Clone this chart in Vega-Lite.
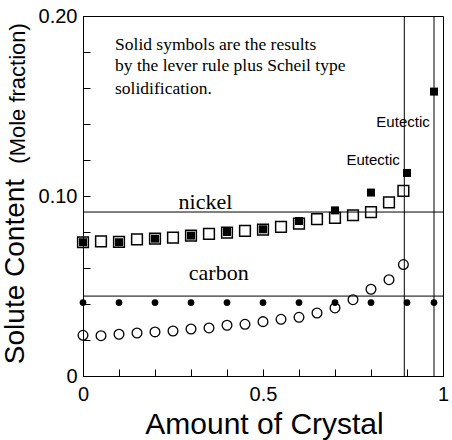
{
  "$schema": "https://vega.github.io/schema/vega-lite/v6.json",
  "width": 360,
  "height": 360,
  "autosize": {"type": "none"},
  "padding": {"left": 83, "top": 16, "right": 9, "bottom": 64},
  "background": "white",
  "config": {
    "view": {"stroke": "black", "strokeWidth": 1},
    "axis": {
      "domainColor": "black", "tickColor": "black", "labelColor": "black", "titleColor": "black",
      "grid": false, "labelFont": "Liberation Sans", "titleFont": "Liberation Sans",
      "titleFontWeight": "normal", "labelFontSize": 20, "tickSize": -7, "tickWidth": 1, "domainWidth": 1,
      "labelOverlap": false, "labelFlush": false
    }
  },
  "datasets": {
    "nickelFull": [
      {"x": 0, "y": 0.0743}, {"x": 0.05, "y": 0.0748}, {"x": 0.1, "y": 0.0745}, {"x": 0.15, "y": 0.0759},
      {"x": 0.2, "y": 0.0763}, {"x": 0.25, "y": 0.0769}, {"x": 0.3, "y": 0.078}, {"x": 0.35, "y": 0.0789},
      {"x": 0.4, "y": 0.0797}, {"x": 0.45, "y": 0.0806}, {"x": 0.5, "y": 0.0813}, {"x": 0.55, "y": 0.0828},
      {"x": 0.6, "y": 0.0847}, {"x": 0.65, "y": 0.0871}, {"x": 0.7, "y": 0.0878}, {"x": 0.75, "y": 0.0893},
      {"x": 0.8, "y": 0.0911}, {"x": 0.85, "y": 0.0965}, {"x": 0.89, "y": 0.1028}
    ],
    "nickelLever": [
      {"x": 0, "y": 0.0743}, {"x": 0.1, "y": 0.0743}, {"x": 0.2, "y": 0.0763}, {"x": 0.3, "y": 0.078},
      {"x": 0.4, "y": 0.08}, {"x": 0.5, "y": 0.0815}, {"x": 0.6, "y": 0.0861}, {"x": 0.7, "y": 0.092},
      {"x": 0.8, "y": 0.1019}, {"x": 0.9, "y": 0.1128}, {"x": 0.975, "y": 0.158}
    ],
    "carbonFull": [
      {"x": 0, "y": 0.0226}, {"x": 0.05, "y": 0.0224}, {"x": 0.1, "y": 0.0232}, {"x": 0.15, "y": 0.0239},
      {"x": 0.2, "y": 0.0245}, {"x": 0.25, "y": 0.025}, {"x": 0.3, "y": 0.0261}, {"x": 0.35, "y": 0.0267},
      {"x": 0.4, "y": 0.0282}, {"x": 0.45, "y": 0.0287}, {"x": 0.5, "y": 0.0302}, {"x": 0.55, "y": 0.0315},
      {"x": 0.6, "y": 0.0326}, {"x": 0.65, "y": 0.035}, {"x": 0.7, "y": 0.0378}, {"x": 0.75, "y": 0.0424},
      {"x": 0.8, "y": 0.0482}, {"x": 0.85, "y": 0.0535}, {"x": 0.89, "y": 0.0619}
    ],
    "carbonLever": [
      {"x": 0, "y": 0.0408}, {"x": 0.1, "y": 0.0408}, {"x": 0.2, "y": 0.0408}, {"x": 0.3, "y": 0.0408},
      {"x": 0.4, "y": 0.0408}, {"x": 0.5, "y": 0.0408}, {"x": 0.6, "y": 0.0408}, {"x": 0.7, "y": 0.0408},
      {"x": 0.8, "y": 0.0408}, {"x": 0.9, "y": 0.0408}, {"x": 0.975, "y": 0.0408}
    ],
    "hlines": [
      {"x": 0, "x2": 1, "y": 0.0911},
      {"x": 0, "x2": 1, "y": 0.0444}
    ],
    "vlines": [
      {"x": 0.8925, "y": 0, "y2": 0.2},
      {"x": 0.975, "y": 0, "y2": 0.2}
    ],
    "notes": [
      {"x": 0.089, "y": 0.1837, "label": "Solid symbols are the results"},
      {"x": 0.089, "y": 0.1721, "label": "by the lever rule plus Scheil type"},
      {"x": 0.089, "y": 0.1593, "label": "solidification."}
    ],
    "species": [
      {"x": 0.34, "y": 0.0965, "label": "nickel"},
      {"x": 0.377, "y": 0.0571, "label": "carbon"}
    ],
    "eutectic": [
      {"x": 0.889, "y": 0.1411, "label": "Eutectic"},
      {"x": 0.806, "y": 0.1198, "label": "Eutectic"}
    ],
    "unit": [
      {"x": -0.181, "y": 0.157, "label": "(Mole fraction)"}
    ]
  },
  "encoding": {
    "x": {
      "field": "x", "type": "quantitative",
      "scale": {"domain": [0, 1], "nice": false, "zero": false},
      "axis": {
        "title": "Amount of Crystal", "titleFontSize": 30, "titleBaseline": "middle",
        "titleY": 48, "titleX": 181,
        "values": [0, 0.1, 0.2, 0.3, 0.4, 0.5, 0.6, 0.7, 0.8, 0.9, 1],
        "labelExpr": "datum.value == 0 ? '0' : datum.value == 0.5 ? '0.5' : datum.value == 1 ? '1' : ''",
        "labelPadding": 15
      }
    },
    "y": {
      "field": "y", "type": "quantitative",
      "scale": {"domain": [0, 0.2], "nice": false, "zero": false},
      "axis": {
        "title": "Solute Content", "titleFontSize": 28, "titleAngle": 270, "titleBaseline": "middle",
        "titleAlign": "center", "titleX": -68, "titleY": 255,
        "values": [0, 0.02, 0.04, 0.06, 0.08, 0.1, 0.12, 0.14, 0.16, 0.18, 0.2],
        "labelExpr": "datum.value == 0 ? '0' : datum.value == 0.1 ? '0.10' : datum.value == 0.2 ? '0.20' : ''",
        "labelPadding": 13
      }
    }
  },
  "layer": [
    {
      "data": {"name": "hlines"},
      "mark": {"type": "rule", "color": "black", "strokeWidth": 1},
      "encoding": {"x2": {"field": "x2"}}
    },
    {
      "data": {"name": "vlines"},
      "mark": {"type": "rule", "color": "black", "strokeWidth": 1},
      "encoding": {"y2": {"field": "y2"}}
    },
    {
      "data": {"name": "nickelFull"},
      "mark": {"type": "point", "shape": "square", "filled": false, "color": "black", "strokeWidth": 1.5, "size": 115, "opacity": 1}
    },
    {
      "data": {"name": "nickelLever"},
      "mark": {"type": "point", "shape": "square", "filled": true, "color": "black", "size": 64, "opacity": 1}
    },
    {
      "data": {"name": "carbonFull"},
      "mark": {"type": "point", "shape": "circle", "filled": false, "color": "black", "strokeWidth": 1.3, "size": 95, "opacity": 1}
    },
    {
      "data": {"name": "carbonLever"},
      "mark": {"type": "point", "shape": "circle", "filled": true, "color": "black", "size": 45, "opacity": 1}
    },
    {
      "data": {"name": "notes"},
      "mark": {"type": "text", "font": "Liberation Serif", "fontSize": 17.5, "align": "left", "baseline": "middle", "color": "black"},
      "encoding": {"text": {"field": "label"}}
    },
    {
      "data": {"name": "species"},
      "mark": {"type": "text", "font": "Liberation Serif", "fontSize": 22, "align": "center", "baseline": "middle", "color": "black"},
      "encoding": {"text": {"field": "label"}}
    },
    {
      "data": {"name": "eutectic"},
      "mark": {"type": "text", "font": "Liberation Sans", "fontSize": 15, "align": "center", "baseline": "middle", "color": "black"},
      "encoding": {"text": {"field": "label"}}
    },
    {
      "data": {"name": "unit"},
      "mark": {"type": "text", "font": "Liberation Sans", "fontSize": 22, "angle": 270, "align": "center", "baseline": "middle", "color": "black"},
      "encoding": {"text": {"field": "label"}}
    }
  ]
}
